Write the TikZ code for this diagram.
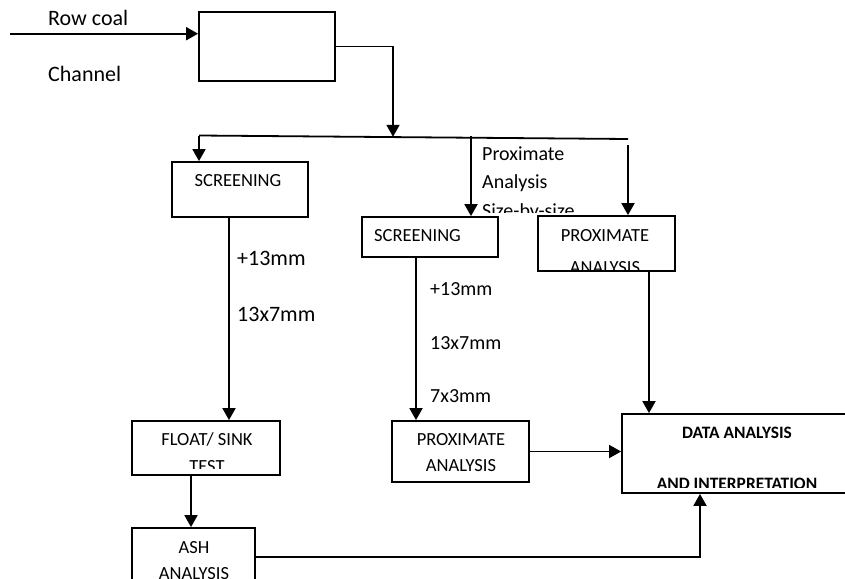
\documentclass[tikz,border=0pt]{standalone}
\usepackage{fontspec}
\setmainfont{Carlito}
\usetikzlibrary{arrows.meta}
\begin{document}
\begin{tikzpicture}[x=1pt,y=-1pt,
  box/.style={draw, line width=1.8pt, inner sep=0pt, rectangle},
  conn/.style={line width=1.8pt},
  arr/.style={conn, -{Triangle[length=12pt,width=13pt]}},
  lbl/.style={inner sep=0pt, anchor=base, font=\fontsize{18.5}{20}\selectfont},
  lblb/.style={inner sep=0pt, anchor=base, font=\fontsize{17.4}{20}\selectfont\bfseries},
  note/.style={inner sep=0pt, anchor=base west, font=\fontsize{22}{24}\selectfont},
  notes/.style={inner sep=0pt, anchor=base west, font=\fontsize{20}{22}\selectfont}]
\useasboundingbox (0,0) rectangle (845,578);
\clip (0,0) rectangle (845,578);

% boxes
\node[box, minimum width=136pt, minimum height=69pt] (topb) at (267,46.5) {};
\node[box, minimum width=136pt, minimum height=55pt] (scr1) at (240,189.5) {};
\node[box, minimum width=136pt, minimum height=40pt] (scr2) at (430,237) {};
\node[box, minimum width=137pt, minimum height=55pt] (prx1) at (606.5,243.5) {};
\node[box, minimum width=148pt, minimum height=54pt] (flt) at (206,448) {};
\node[box, minimum width=137pt, minimum height=61pt] (prx2) at (460.5,451.5) {};
\node[box, minimum width=230pt, minimum height=79pt] (data) at (737,453.5) {};
\node[box, minimum width=123pt, minimum height=72pt] (ash) at (193.5,564) {};

% box texts
\node[lbl] (t-scr1) at (238,186.7) {SCREENING};
\node[lbl, anchor=base west] (t-scr2) at (374,241.7) {SCREENING};
\node[lbl] (t-prx1a) at (605,241.5) {PROXIMATE};
\begin{scope}
  \clip (539,217) rectangle (674,269);
  \node[lbl] (t-prx1b) at (605,273) {ANALYSIS};
\end{scope}
\node[lbl] (t-flta) at (207,445.7) {FLOAT/ SINK};
\begin{scope}
  \clip (133,422) rectangle (279,468);
  \node[lbl] (t-fltb) at (207,472) {TEST};
\end{scope}
\node[lbl] (t-prx2a) at (461,445.7) {PROXIMATE};
\node[lbl] (t-prx2b) at (461,471) {ANALYSIS};
\node[lblb] (t-dataa) at (737,438.3) {DATA ANALYSIS};
\begin{scope}
  \clip (623,415) rectangle (845,487);
  \node[lblb] (t-datab) at (737,489.5) {AND INTERPRETATION};
\end{scope}
\node[lbl] (t-asha) at (194,553) {ASH};
\node[lbl] (t-ashb) at (194,579) {ANALYSIS};

% free labels
\node[note] (rowcoal) at (48,25.5) {Row coal};
\node[note] (channel) at (48,81.5) {Channel};
\node[notes] (px1) at (482,160) {Proximate};
\node[notes] (px2) at (482,188.3) {Analysis};
\begin{scope}
  \clip (470,190) rectangle (620,212);
  \node[notes] (px3) at (482,217) {Size-by-size};
\end{scope}
\node[note] (l1) at (237,265) {+13mm};
\node[note] (l2) at (237,321.7) {13x7mm};
\node[notes] (r1) at (430,295.7) {+13mm};
\node[notes] (r2) at (430,349.3) {13x7mm};
\node[notes] (r3) at (430,402.3) {7x3mm};

% connector end points
\coordinate (in) at (10,33.7);
\coordinate (bus-l) at (199,135.5);
\coordinate (bus-r) at (628,139);
\coordinate (feed) at (393,46.5);
\coordinate (feed-end) at (393,136.8);
\coordinate (mid-top) at (471,136);
\coordinate (rgt-top) at (628,145);
\coordinate (ash-turn) at (700,557);
\coordinate (xl) at (229,0);
\coordinate (xf) at (191,0);
\coordinate (xm) at (416,0);
\coordinate (xr) at (649,0);

% connectors
\draw[arr] (in) -- (in -| topb.west);
\draw[arr] (topb.east |- feed) -- (feed) -- (feed-end);
\draw[conn] (bus-l) -- (bus-r);
\draw[arr] (bus-l) -- (bus-l |- scr1.north);
\draw[arr] (mid-top) -- (mid-top |- scr2.north);
\draw[arr] (rgt-top) -- (rgt-top |- prx1.north);
\draw[arr] (scr1.south -| xl) -- (flt.north -| xl);
\draw[arr] (flt.south -| xf) -- (ash.north -| xf);
\draw[arr] (scr2.south -| xm) -- (prx2.north -| xm);
\draw[arr] (prx1.south -| xr) -- (data.north -| xr);
\draw[arr] (prx2.east) -- (prx2.east -| data.west);
\draw[arr] (ash.east |- ash-turn) -- (ash-turn) -- (ash-turn |- data.south);
\end{tikzpicture}
\end{document}
